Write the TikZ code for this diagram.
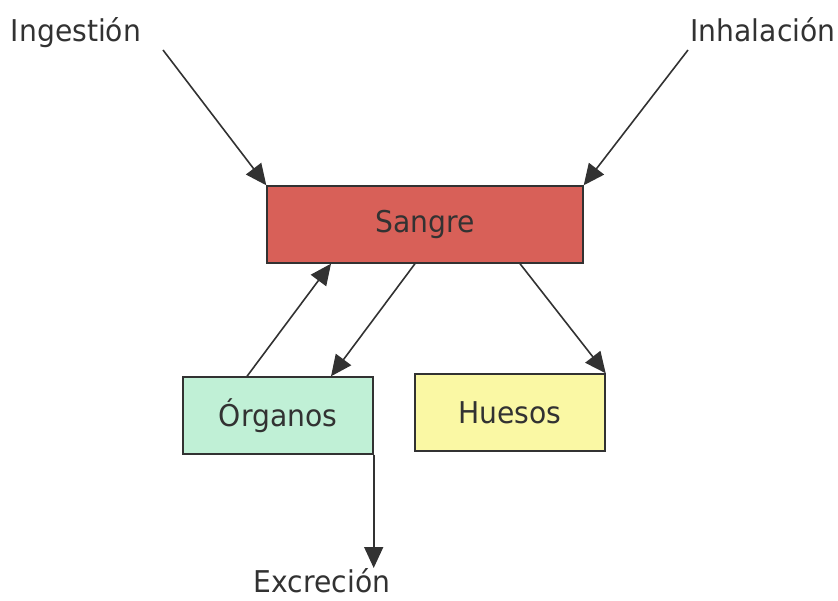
\documentclass[tikz,border=0pt]{standalone}
\usepackage{fontspec}
\setmainfont{DejaVu Sans}[FakeStretch=0.94]
\usetikzlibrary{arrows.meta}
\definecolor{ink}{RGB}{50,50,50}
\definecolor{sangrefill}{RGB}{216,96,88}
\definecolor{organfill}{RGB}{192,240,214}
\definecolor{huesofill}{RGB}{250,248,164}
\begin{document}
\begin{tikzpicture}[x=1pt,y=1pt]
	\tikzstyle{every node}+=[inner sep=0pt, text=ink, font=\fontsize{30}{30}\selectfont]
	\tikzstyle{box}=[draw=ink, line width=1.4pt, minimum width=190pt, minimum height=77pt]
	\tikzstyle{flow}=[draw=ink, line width=1.6pt, -{Triangle[length=21pt,width=19pt]}]
	\useasboundingbox (0,0) rectangle (838,-601);
	\node [box, fill=sangrefill, minimum width=316pt] (sangre) at (425,-224.5) {Sangre};
	\node [box, fill=organfill] (organos) at (278,-415.5) {Órganos};
	\node [box, fill=huesofill] (huesos) at (510,-412.5) {Huesos};
	\node [anchor=base] (ingestion) at (76,-42) {Ingestión};
	\node [anchor=base] (inhalacion) at (763,-42) {Inhalación};
	\node [anchor=base] (excrecion) at (322,-592) {Excreción};
	\coordinate (ingstart) at (163,-50);
	\coordinate (inhstart) at (688,-50);
	\coordinate (excend) at (373,-568);
	\draw [flow] (ingstart) -- (sangre.north west);
	\draw [flow] (inhstart) -- (sangre.north east);
	\draw [flow] ([xshift=-31pt]organos.north) -- ([xshift=-94pt]sangre.south);
	\draw [flow] ([xshift=-10pt]sangre.south) -- ([xshift=53pt]organos.north);
	\draw [flow] ([xshift=95pt]sangre.south) -- (huesos.north east);
	\draw [flow] (organos.south east) -- (organos.south east |- excend);
\end{tikzpicture}
\end{document}
